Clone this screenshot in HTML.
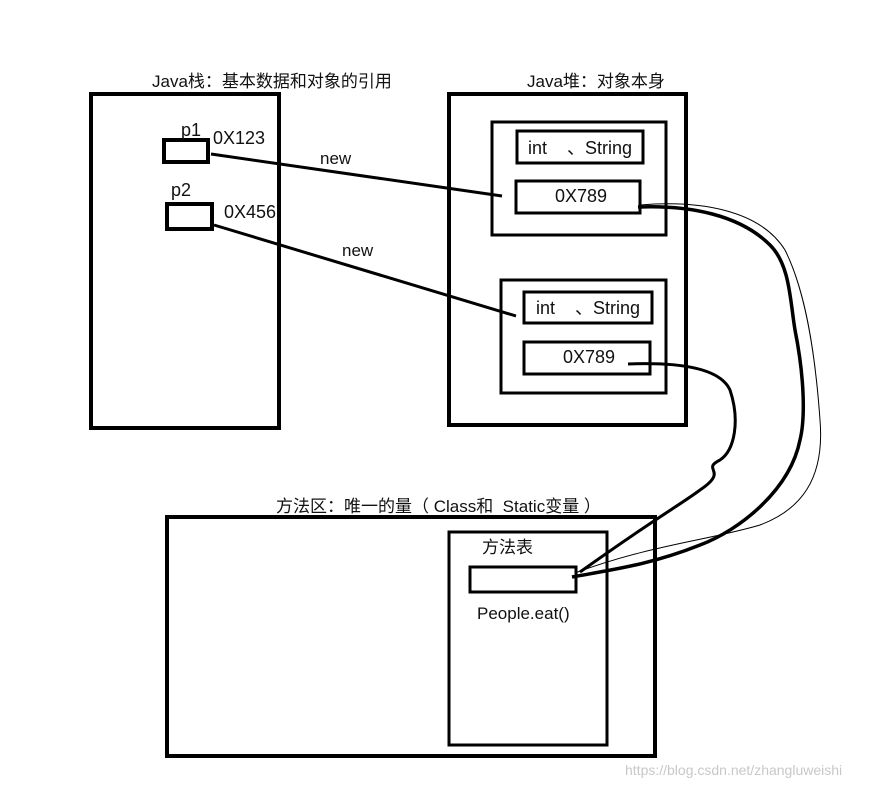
<!DOCTYPE html>
<html><head><meta charset="utf-8"><style>
html,body{margin:0;padding:0;background:#fff;width:883px;height:785px;overflow:hidden}
text{font-family:"Liberation Sans","Noto Sans CJK SC",sans-serif;fill:#111;white-space:pre}
</style></head><body>
<svg width="883" height="785" viewBox="0 0 883 785" xmlns="http://www.w3.org/2000/svg">
<g fill="none" stroke="#000">
<rect x="91" y="94" width="188" height="334" stroke-width="4"/>
<rect x="164" y="140" width="44" height="22" stroke-width="4"/>
<rect x="167" y="204" width="45" height="25" stroke-width="4"/>
<rect x="449" y="94" width="237" height="331" stroke-width="4"/>
<rect x="492" y="122" width="174" height="113" stroke-width="3"/>
<rect x="517" y="131" width="126" height="32" stroke-width="3"/>
<rect x="516" y="181" width="124" height="32" stroke-width="3"/>
<rect x="501" y="280" width="165" height="113" stroke-width="3"/>
<rect x="524" y="292" width="128" height="31" stroke-width="3"/>
<rect x="524" y="342" width="126" height="32" stroke-width="3"/>
<rect x="167" y="517" width="488" height="239" stroke-width="4"/>
<rect x="449" y="532" width="158" height="213" stroke-width="3"/>
<rect x="470" y="567" width="106" height="25" stroke-width="3"/>
<path d="M211 154 L502 196" stroke-width="3"/>
<path d="M214 225 L516 316" stroke-width="3"/>
<path d="M638 207 C690 205 740 215 770 245 C790 265 790 300 795 330 C805 380 805 420 800 440 C790 490 740 530 700 545 C650 565 610 570 572 577" stroke-width="3.5"/>
<path d="M640 205 C700 200 760 210 785 250 C805 290 815 350 820 420 C825 480 800 510 760 525 C710 540 650 545 575 573" stroke-width="1"/>
<path d="M628 364 C680 362 720 368 730 390 C740 420 735 450 720 460 C700 470 730 470 700 490 C680 505 660 515 580 572" stroke-width="3"/>
</g>
<text x="152" y="87" font-size="17">Java栈：基本数据和对象的引用</text>
<text x="527" y="87" font-size="17">Java堆：对象本身</text>
<text x="276" y="512" font-size="17">方法区：唯一的量（ Class和  Static变量 ）</text>
<text x="181" y="136" font-size="18">p1</text>
<text x="213" y="144" font-size="18">0X123</text>
<text x="171" y="196" font-size="18">p2</text>
<text x="224" y="218" font-size="18">0X456</text>
<text x="320" y="164" font-size="17">new</text>
<text x="342" y="256" font-size="17">new</text>
<text x="528" y="154" font-size="18">int    、String</text>
<text x="555" y="202" font-size="18">0X789</text>
<text x="536" y="314" font-size="18">int    、String</text>
<text x="563" y="363" font-size="18">0X789</text>
<text x="482" y="553" font-size="17">方法表</text>
<text x="477" y="619" font-size="17">People.eat()</text>
<text x="625" y="775" font-size="14" style="fill:#c8c8c8">https://blog.csdn.net/zhangluweishi</text>
</svg>
</body></html>
